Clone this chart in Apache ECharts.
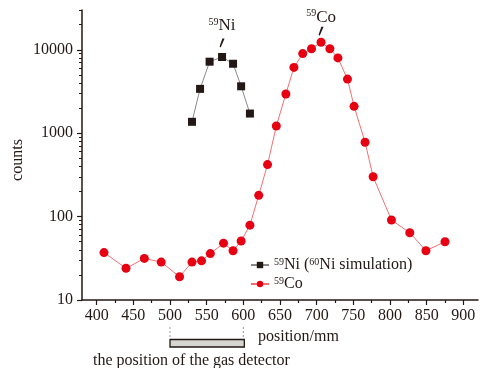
<!DOCTYPE html>
<html>
<head>
<meta charset="utf-8">
<script src="https://cdn.jsdelivr.net/npm/echarts@6/dist/echarts.min.js"></script>
<style>
  html, body { margin: 0; padding: 0; background: #fff; }
  #chart { width: 480px; height: 368px; }
</style>
</head>
<body>
<div id="chart"></div>
<script>
// positions in mm, counts
const niX = [530, 541, 554, 571, 586, 597, 609];
const niY = [1370, 3400, 7200, 8200, 6800, 3650, 1720];

const coX = [410, 440, 465, 488, 513, 530, 543, 555, 573, 586, 597, 609, 621, 633, 645, 658, 669, 681, 693, 706, 718, 729, 742, 751, 766, 777, 802, 827, 849, 875];
const coY = [37, 24, 31.5, 28.5, 19, 28.5, 29.5, 36, 48, 39, 51, 79, 180, 420, 1220, 2950, 6150, 9000, 10300, 12300, 10300, 8000, 4450, 2100, 780, 300, 91, 64, 39, 50];

const xLabels = [400, 450, 500, 550, 600, 650, 700, 750, 800, 850, 900];
const xMinor = [425, 475, 525, 575, 625, 675, 725, 775, 825, 875];
const yLabels = [10, 100, 1000, 10000];
const yMinor = [];
[10, 100, 1000, 10000].forEach((d) => {
  for (let m = 2; m <= 9; m++) if (d * m <= 30000) yMinor.push(d * m);
});

const detector = [500, 600]; // mm

const FONT = "Liberation Serif";
const INK = "#231815";

const chart = echarts.init(document.getElementById("chart"));

const sup = { fontSize: 10, verticalAlign: "top", padding: [0, 0, 6, 0], fontFamily: FONT, color: INK };

const arrow = "path://M3,0 L5,0 L1.5,9 L0.5,8 Z";

chart.setOption({
  animation: false,
  grid: { left: 82, right: 2, top: 10, bottom: 68 },
  xAxis: [
    {
      type: "value",
      min: 380,
      max: 920,
      splitLine: { show: false },
      axisLine: { lineStyle: { color: INK, width: 1.5 } },
      axisTick: { customValues: xLabels, length: 5, lineStyle: { color: INK, width: 1.2 } },
      axisLabel: {
        customValues: xLabels,
        margin: 8,
        fontFamily: FONT,
        fontSize: 16,
        color: INK,
      },
    },
    {
      type: "value",
      min: 380,
      max: 920,
      position: "bottom",
      splitLine: { show: false },
      axisLine: { show: false },
      axisTick: { customValues: xMinor, length: 3, lineStyle: { color: INK, width: 1.2 } },
      axisLabel: { show: false },
    },
  ],
  yAxis: [
    {
      type: "log",
      min: 10,
      max: 30000,
      splitLine: { show: false },
      axisLine: { show: true, lineStyle: { color: INK, width: 1.5 } },
      axisTick: { show: true, customValues: yLabels, length: 5, lineStyle: { color: INK, width: 1.2 } },
      axisLabel: {
        customValues: yLabels,
        formatter: (v) => String(Math.round(v)),
        margin: 9,
        fontFamily: FONT,
        fontSize: 16,
        color: INK,
      },
    },
    {
      type: "log",
      min: 10,
      max: 30000,
      position: "left",
      splitLine: { show: false },
      axisLine: { show: false },
      axisTick: { show: true, customValues: yMinor, length: 3, lineStyle: { color: INK, width: 1 } },
      axisLabel: { show: false },
    },
  ],
  legend: {
    orient: "vertical",
    left: 245,
    top: 252,
    itemWidth: 18,
    itemHeight: 8,
    itemGap: 3,
    textStyle: {
      fontFamily: FONT,
      fontSize: 16,
      color: INK,
      rich: { sup: sup, t: { fontFamily: FONT, fontSize: 16, color: INK } },
    },
    formatter: (name) =>
      name === "Ni"
        ? "{sup|59}{t|Ni (}{sup|60}{t|Ni simulation)}"
        : "{sup|59}{t|Co}",
    data: ["Ni", "Co"],
  },
  graphic: [
    {
      type: "text",
      left: 258,
      top: 329,
      style: { text: "position/mm", font: "16px " + FONT, fill: INK },
    },
    {
      type: "text",
      left: 93,
      top: 353,
      style: { text: "the position of the gas detector", font: "16px " + FONT, fill: INK },
    },
    {
      type: "text",
      x: 18,
      y: 160,
      rotation: Math.PI / 2,
      style: {
        text: "counts",
        font: "16px " + FONT,
        fill: INK,
        align: "center",
        verticalAlign: "middle",
      },
    },
  ],
  series: [
    {
      name: "Ni",
      type: "line",
      data: niX.map((x, i) => [x, niY[i]]),
      symbol: "rect",
      symbolSize: 8,
      itemStyle: { color: INK },
      lineStyle: { color: "#8a8a8a", width: 1 },
      markPoint: {
        silent: true,
        symbol: arrow,
        symbolSize: [5, 9],
        symbolOffset: [0, -14],
        itemStyle: { color: INK },
        label: {
          show: true,
          position: "top",
          distance: 4,
          formatter: "{sup|59}{t|Ni}",
          rich: { sup: sup, t: { fontFamily: FONT, fontSize: 17, color: INK } },
        },
        data: [{ coord: [niX[3], niY[3]] }],
      },
    },
    {
      name: "Co",
      type: "line",
      data: coX.map((x, i) => [x, coY[i]]),
      symbol: "circle",
      symbolSize: 9,
      itemStyle: { color: "#e60012" },
      lineStyle: { color: "#f07070", width: 1 },
      markPoint: {
        silent: true,
        symbol: arrow,
        symbolSize: [5, 9],
        symbolOffset: [0, -11],
        itemStyle: { color: INK },
        label: {
          show: true,
          position: "top",
          distance: 1,
          formatter: "{sup|59}{t|Co}",
          rich: { sup: sup, t: { fontFamily: FONT, fontSize: 17, color: INK } },
        },
        data: [{ coord: [coX[19], coY[19]] }],
      },
    },
    {
      type: "custom",
      silent: true,
      clip: false,
      data: [[detector[0], detector[1]]],
      renderItem: (params, api) => {
        const a = api.coord([api.value(0), 10]);
        const b = api.coord([api.value(1), 10]);
        return {
          type: "group",
          children: [
            {
              type: "line",
              shape: { x1: a[0], y1: a[1] + 27, x2: a[0], y2: a[1] + 39 },
              style: { stroke: "#999", lineWidth: 1, lineDash: [2, 2] },
            },
            {
              type: "line",
              shape: { x1: b[0], y1: b[1] + 27, x2: b[0], y2: b[1] + 39 },
              style: { stroke: "#999", lineWidth: 1, lineDash: [2, 2] },
            },
            {
              type: "rect",
              shape: { x: a[0], y: a[1] + 39.5, width: b[0] - a[0] + 1, height: 7.5 },
              style: { fill: "#d6d6d0", stroke: INK, lineWidth: 1.3 },
            },
          ],
        };
      },
    },
  ],
});
</script>
</body>
</html>
